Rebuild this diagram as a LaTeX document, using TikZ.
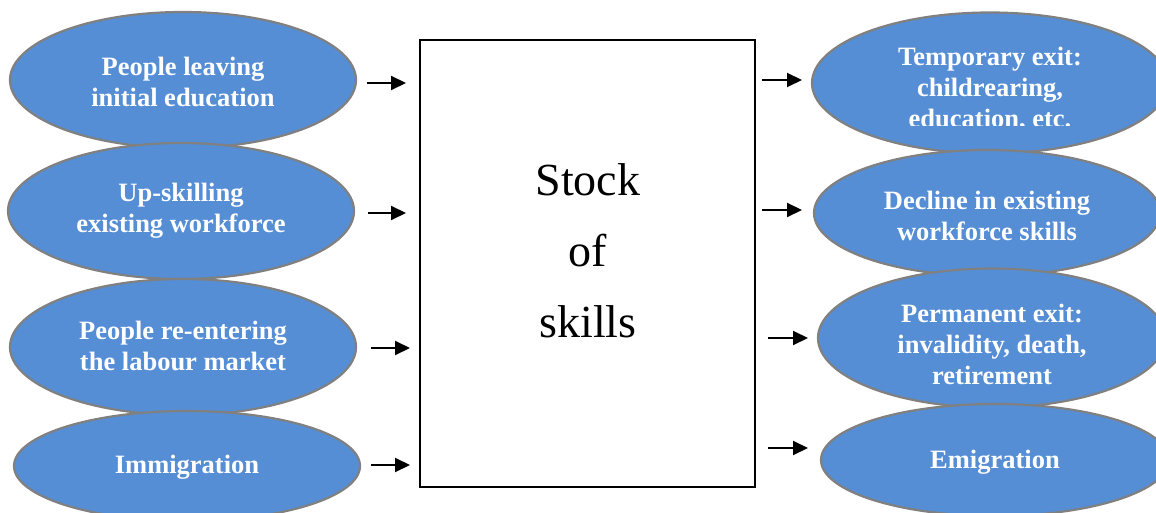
\documentclass[tikz,border=0pt]{standalone}
\usepackage{fontspec}
\setmainfont{Liberation Serif}
\usetikzlibrary{shapes.geometric,arrows.meta}
\definecolor{ellfill}{RGB}{85,142,213}
\definecolor{ellline}{RGB}{128,128,128}
\begin{document}
\begin{tikzpicture}[x=1pt,y=-1pt,
  oval/.style={ellipse,fill=ellfill,draw=ellline,line width=2.2pt,inner sep=0pt,minimum width=346pt,minimum height=136pt},
  lbl/.style={text=white,font=\fontsize{26.5}{31}\selectfont\bfseries,align=center,inner sep=0pt},
  arr/.style={line width=2pt,-{Triangle[length=15pt,width=14pt]}},
  stockbox/.style={draw=black,line width=2pt,fill=white,minimum width=335pt,minimum height=447pt,inner sep=0pt}]
\useasboundingbox (0,0) rectangle (1156,513);
\clip (0,0) rectangle (1156,513);
\fill[white] (0,0) rectangle (1156,513);
% left ellipses
\node[oval] (l1) at (183,80) {};
\node[oval] (l2) at (181,211) {};
\node[oval] (l3) at (183,347) {};
\node[oval,minimum height=110pt] (l4) at (187,466) {};
\node[lbl] (tl1) at (183,82) {People leaving\\initial education};
\node[lbl] (tl2) at (181,211) {Up-skilling\\existing workforce};
\node[lbl] (tl3) at (183,346) {People re-entering\\the labour market};
\node[lbl] (tl4) at (187,467) {Immigration};
% right ellipses
\node[oval,minimum width=356pt,minimum height=141pt] (r1) at (990,83) {};
\node[oval,minimum height=126pt] (r2) at (987,213) {};
\node[oval,minimum width=348pt,minimum height=139pt] (r3) at (992,338) {};
\node[oval,minimum width=348pt,minimum height=112pt] (r4) at (995,460) {};
\begin{scope}
  \clip (800,0) rectangle (1156,126);
  \node[lbl] (tr1) at (990,89) {Temporary exit:\\childrearing,\\education, etc.};
\end{scope}
\node[lbl] (tr2) at (987,216) {Decline in existing\\workforce skills};
\node[lbl] (tr3) at (992,344) {Permanent exit:\\invalidity, death,\\retirement};
\node[lbl] (tr4) at (995,462) {Emigration};
% central box
\node[stockbox] (box) at (587.5,263.5) {};
\node[font=\fontsize{46}{71}\selectfont,align=center,inner sep=0pt] (stock) at (588,251) {Stock\\of\\skills};
% arrows
\coordinate (a1s) at (367,83);  \coordinate (a1e) at (406,83);
\coordinate (a2s) at (368,213); \coordinate (a2e) at (406,213);
\coordinate (a3s) at (371,348); \coordinate (a3e) at (410,348);
\coordinate (a4s) at (371,465); \coordinate (a4e) at (410,465);
\coordinate (b1s) at (762,80);  \coordinate (b1e) at (802,80);
\coordinate (b2s) at (762,210); \coordinate (b2e) at (802,210);
\coordinate (b3s) at (768,338); \coordinate (b3e) at (808,338);
\coordinate (b4s) at (768,448); \coordinate (b4e) at (808,448);
\draw[arr] (a1s) -- (a1e);
\draw[arr] (a2s) -- (a2e);
\draw[arr] (a3s) -- (a3e);
\draw[arr] (a4s) -- (a4e);
\draw[arr] (b1s) -- (b1e);
\draw[arr] (b2s) -- (b2e);
\draw[arr] (b3s) -- (b3e);
\draw[arr] (b4s) -- (b4e);
\end{tikzpicture}
\end{document}
